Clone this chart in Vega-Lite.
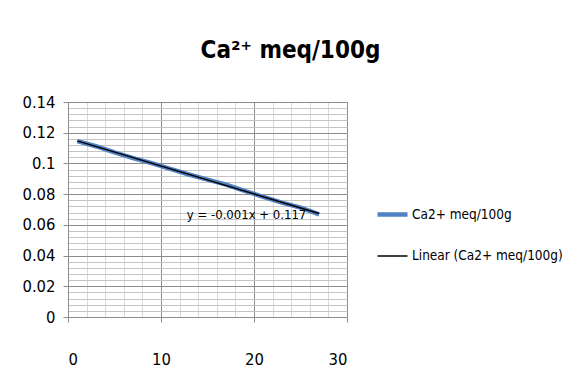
{
  "$schema": "https://vega.github.io/schema/vega-lite/v6.json",
  "autosize": {"type": "none"},
  "padding": {"left": 68, "top": 102, "right": 222, "bottom": 70},
  "width": 279,
  "height": 215,
  "background": "white",
  "config": {
    "view": {"stroke": null},
    "font": "DejaVu Sans Condensed, Roboto, sans-serif",
    "axis": {"labelFont": "DejaVu Sans Condensed, Roboto, sans-serif", "labelFontSize": 16.5, "labelColor": "#000000", "title": null}
  },
  "title": {
    "text": "Ca²⁺ meq/100g",
    "font": "DejaVu Sans Condensed, Roboto, sans-serif",
    "fontSize": 24,
    "fontWeight": "bold",
    "color": "#000000",
    "anchor": "middle",
    "dx": 83,
    "offset": 31
  },
  "data": {
    "values": [
      {"x": 1, "y": 0.1145},
      {"x": 3, "y": 0.1112},
      {"x": 5, "y": 0.1072},
      {"x": 7, "y": 0.1035},
      {"x": 9, "y": 0.1002},
      {"x": 11, "y": 0.0965},
      {"x": 13, "y": 0.0928},
      {"x": 15, "y": 0.0895},
      {"x": 17, "y": 0.0862},
      {"x": 19, "y": 0.0822},
      {"x": 21, "y": 0.0782},
      {"x": 23, "y": 0.0745},
      {"x": 25, "y": 0.0712},
      {"x": 27, "y": 0.0668}
    ]
  },
  "resolve": {"axis": {"x": "independent", "y": "independent"}},
  "layer": [
    {
      "mark": {"type": "line", "strokeCap": "butt"},
      "encoding": {
        "x": {
          "field": "x", "type": "quantitative",
          "scale": {"domain": [0, 30], "nice": false},
          "axis": {
            "orient": "bottom",
            "values": [0, 2, 4, 6, 8, 10, 12, 14, 16, 18, 20, 22, 24, 26, 28, 30],
            "grid": true, "gridColor": "#d9d9d9", "gridOpacity": 1,
            "labels": false, "ticks": false, "domain": false, "title": null
          }
        },
        "y": {
          "field": "y", "type": "quantitative",
          "scale": {"domain": [0, 0.14], "nice": false},
          "axis": {
            "orient": "left",
            "values": [0, 0.004, 0.008, 0.012, 0.016, 0.02, 0.024, 0.028, 0.032, 0.036, 0.04, 0.044, 0.048, 0.052, 0.056, 0.06, 0.064, 0.068, 0.072, 0.076, 0.08, 0.084, 0.088, 0.092, 0.096, 0.1, 0.104, 0.108, 0.112, 0.116, 0.12, 0.124, 0.128, 0.132, 0.136, 0.14],
            "grid": true, "gridColor": "#c4c4c4", "gridOpacity": 1,
            "labels": false, "ticks": false, "domain": false, "title": null
          }
        },
        "color": {
          "datum": "Ca2+ meq/100g",
          "scale": {"domain": ["Ca2+ meq/100g", "Linear (Ca2+ meq/100g)"], "range": ["#4f81c4", "#000000"]},
          "legend": {
            "title": null,
            "orient": "none",
            "legendX": 307,
            "legendY": 95,
            "padding": 0,
            "symbolType": "stroke",
            "symbolSize": 900,
            "labelFont": "DejaVu Sans Condensed, Roboto, sans-serif",
            "labelFontSize": 13.5,
            "labelColor": "#000000",
            "labelOffset": 2,
            "rowPadding": 16
          }
        },
        "strokeWidth": {
          "datum": "Ca2+ meq/100g",
          "scale": {"domain": ["Ca2+ meq/100g", "Linear (Ca2+ meq/100g)"], "range": [4.5, 1.5]}
        }
      }
    },
    {
      "transform": [
        {"regression": "y", "on": "x", "extent": [1, 27]}
      ],
      "mark": {"type": "line"},
      "encoding": {
        "x": {
          "field": "x", "type": "quantitative",
          "axis": {
            "orient": "bottom",
            "values": [0, 10, 20, 30],
            "grid": true, "gridColor": "#8c8c8c", "gridOpacity": 1,
            "domain": true, "domainColor": "#8c8c8c",
            "ticks": true, "tickColor": "#8c8c8c", "tickSize": 5,
            "labelPadding": 29, "title": null
          }
        },
        "y": {
          "field": "y", "type": "quantitative",
          "axis": {
            "orient": "left",
            "values": [0, 0.02, 0.04, 0.06, 0.08, 0.1, 0.12, 0.14],
            "format": "~g",
            "grid": true, "gridColor": "#8c8c8c", "gridOpacity": 1,
            "domain": true, "domainColor": "#8c8c8c",
            "ticks": true, "tickColor": "#8c8c8c", "tickSize": 5,
            "labelPadding": 8, "title": null
          }
        },
        "color": {"datum": "Linear (Ca2+ meq/100g)"},
        "strokeWidth": {"datum": "Linear (Ca2+ meq/100g)"}
      }
    },
    {
      "data": {"values": [{"x": 19.2, "y": 0.0662, "label": "y = -0.001x + 0.117"}]},
      "mark": {"type": "text", "font": "DejaVu Sans Condensed, Roboto, sans-serif", "fontSize": 13, "color": "#000000", "align": "center", "baseline": "middle"},
      "encoding": {
        "x": {"field": "x", "type": "quantitative", "axis": null},
        "y": {"field": "y", "type": "quantitative", "axis": null},
        "text": {"field": "label"}
      }
    }
  ]
}
